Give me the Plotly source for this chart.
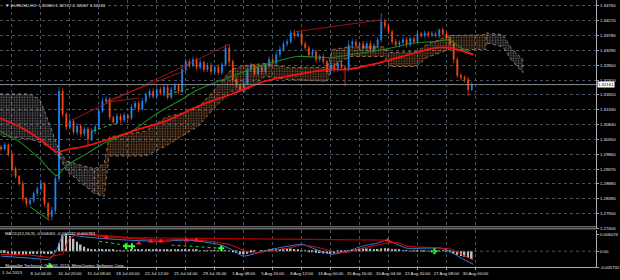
import plotly.graph_objects as go

# ---------------- data ----------------
# EURUSD H4 closes, one candle per 2 H4 bars (bar index = 2*k)
closes = [
    1.3003, 1.3017, 1.2987, 1.2938, 1.2912, 1.2889, 1.2839, 1.2823, 1.2833, 1.2856,
    1.2872, 1.2889, 1.2823, 1.2780, 1.2800, 1.2905, 1.3194, 1.3118, 1.3076, 1.3095,
    1.3059, 1.3079, 1.3053, 1.3069, 1.3036, 1.3062, 1.3076, 1.3128, 1.3161, 1.3168,
    1.3108, 1.3092, 1.3112, 1.3099, 1.3115, 1.3105, 1.3141, 1.3154, 1.3135, 1.3161,
    1.3181, 1.3194, 1.3177, 1.3200, 1.3187, 1.3207, 1.3174, 1.3200, 1.3213, 1.3194,
    1.3266, 1.3292, 1.3279, 1.3299, 1.3273, 1.3289, 1.3266, 1.3279, 1.3259, 1.3273,
    1.3256, 1.3282, 1.3338, 1.3292, 1.3233, 1.3213, 1.3200, 1.3220, 1.3266, 1.3279,
    1.3253, 1.3273, 1.3259, 1.3279, 1.3299, 1.3286, 1.3315, 1.3332, 1.3351, 1.3358,
    1.3387, 1.3378, 1.3384, 1.3351, 1.3338, 1.3315, 1.3325, 1.3299, 1.3309, 1.3292,
    1.3259, 1.3279, 1.3266, 1.3286, 1.3273, 1.3266, 1.3348, 1.3358, 1.3345, 1.3351,
    1.3338, 1.3351, 1.3332, 1.3345, 1.3364, 1.3424, 1.3410, 1.3391, 1.3358, 1.3348,
    1.3355, 1.3364, 1.3348, 1.3368, 1.3358, 1.3384, 1.3378, 1.3387, 1.3381, 1.3384,
    1.3378, 1.3397, 1.3384, 1.3371, 1.3351, 1.3299, 1.3246, 1.3240, 1.3233, 1.3200,
    1.3216,
]
first_open = 1.3010
# estimated wick lengths in pips (above body / below body)
up_pips = [6, 8, 5, 4, 7, 5, 9, 6, 10, 6,
           8, 12, 5, 6, 12, 8, 13, 10, 6, 12,
           8, 10, 6, 9, 7, 10, 8, 6, 12, 9,
           7, 6, 10, 8, 9, 6, 10, 8, 7, 11,
           9, 8, 10, 7, 9, 8, 11, 8, 9, 7,
           12, 10, 8, 9, 7, 10, 6, 9, 8, 7,
           10, 8, 10, 12, 7, 9, 6, 8, 10, 9,
           7, 9, 8, 6, 10, 8, 9, 12, 8, 10,
           9, 11, 8, 7, 9, 6, 10, 7, 8, 9,
           6, 10, 7, 8, 9, 7, 14, 9, 8, 7,
           9, 8, 10, 7, 9, 12, 10, 8, 6, 9,
           7, 8, 9, 6, 8, 9, 7, 8, 6, 9,
           8, 10, 7, 6, 8, 10, 7, 9, 6, 8,
           9]
low_pips = [7, 5, 9, 10, 6, 8, 7, 10, 6, 8,
            9, 6, 10, 12, 8, 9, 11, 9, 10, 7,
            8, 9, 11, 8, 10, 7, 9, 10, 6, 8,
            10, 9, 7, 11, 6, 8, 7, 9, 10, 6,
            8, 10, 7, 9, 6, 10, 8, 7, 9, 11,
            7, 9, 8, 6, 10, 7, 9, 8, 10, 7,
            9, 8, 7, 11, 10, 9, 8, 12, 7, 9,
            8, 6, 10, 9, 7, 8, 6, 9, 7, 8,
            7, 9, 6, 10, 8, 9, 7, 10, 8, 9,
            9, 7, 10, 8, 9, 8, 7, 9, 6, 10,
            8, 9, 7, 10, 8, 9, 11, 8, 10, 7,
            9, 8, 10, 7, 9, 6, 8, 7, 9, 8,
            7, 9, 8, 10, 9, 12, 8, 10, 9, 11,
            6]
wick_k = [14, 16, 24, 62, 66, 80, 95, 105, 121, 129]
wick_high = [None, 1.3207, None, 1.3348, None, 1.3397, None, 1.3453, 1.3401, None]
wick_low = [1.2767, None, 1.3013, None, 1.3194, None, 1.3210, None, None, 1.3177]
bid_price = 1.32161

red_ma_x = [-0.6, 10.4, 21.3, 30.6, 37.8, 47.1, 59.7, 76.1, 90.9, 109.0, 127.1, 145.7,
            163.8, 181.9, 191.2, 207.6, 229.5, 240.5, 247.6, 260.8]
red_ma_y = [1.3105, 1.3076, 1.3036, 1.2994, 1.3003, 1.3013, 1.3036, 1.3069, 1.3095, 1.3145,
            1.3184, 1.3227, 1.3250, 1.3266, 1.3266, 1.3286, 1.3322, 1.3338, 1.3338, 1.3315]
green_ma_x = [-0.6, 10.4, 21.3, 30.6, 36.1, 47.1, 58.0, 72.3, 85.4, 98.0, 109.0, 127.1,
              145.7, 163.8, 181.9, 200.5, 211.5, 229.5, 238.9, 247.6, 253.1, 260.8]
green_ma_y = [1.3062, 1.3026, 1.2971, 1.2915, 1.2948, 1.2987, 1.3026, 1.3062, 1.3118, 1.3161,
              1.3200, 1.3243, 1.3282, 1.3309, 1.3305, 1.3322, 1.3332, 1.3355, 1.3358, 1.3364,
              1.3341, 1.3315]

# Ichimoku cloud segments (bar index, upper span, lower span)
gray1_x = [-0.6, 15.8, 21.3, 26.8, 32.3]
gray1_top = [1.3185, 1.3185, 1.3168, 1.3085, 1.2994]
gray1_bot = [1.3046, 1.3036, 1.3026, 1.3010, 1.2977]
gray2_x = [32.3, 36.1, 43.2, 51.5]
gray2_top = [1.2994, 1.2964, 1.2951, 1.2938]
gray2_bot = [1.2977, 1.2931, 1.2895, 1.2856]
orange_x = [51.5, 56.9, 59.7, 79.9, 90.9, 101.9, 109.0, 117.2, 127.1, 134.7, 145.7, 158.3,
            180.2, 183.0, 192.8, 211.5, 214.7, 229.5, 235.0, 247.6, 267.9]
orange_top = [1.2938, 1.2954, 1.3043, 1.3062, 1.3108, 1.3125, 1.3141, 1.3194, 1.3266, 1.3279,
              1.3286, 1.3273, 1.3273, 1.3332, 1.3341, 1.3341, 1.3322, 1.3325, 1.3348, 1.3378,
              1.3381]
orange_bot = [1.2856, 1.2846, 1.2980, 1.2980, 1.3013, 1.3053, 1.3079, 1.3135, 1.3194, 1.3194,
              1.3243, 1.3233, 1.3227, 1.3276, 1.3309, 1.3309, 1.3276, 1.3276, 1.3305, 1.3332,
              1.3332]
gray3_x = [267.9, 277.2, 281.6, 288.2]
gray3_top = [1.3387, 1.3381, 1.3338, 1.3299]
gray3_bot = [1.3354, 1.3341, 1.3299, 1.3256]

# trend lines on price pane
tl_x = [38.9, 125.4, None, 162.7, 209.8, None, 58.0, 103.5, None, 58.0, 76.1]
tl_y = [1.3098, 1.3348, None, 1.3391, 1.3430, None, 1.3161, 1.3266, None, 1.3158, 1.3171]
gd_x = [50.4, 65.2, None, 92.5, 109.0]
gd_y = [1.3062, 1.3092, None, 1.3184, 1.3210]
gs_x = [15.8, 26.8]
gs_y = [1.2813, 1.2767]

# MACD pane
hist = [
    -0.0006, -0.0007, -0.0008, -0.0009, -0.0010, -0.0010, -0.0011, -0.0011, -0.0010, -0.0009,
    -0.0009, -0.0008, -0.0009, -0.0010, -0.0009, -0.0004,
    0.0030, 0.0058, 0.0064, 0.0055, 0.0045, 0.0034, 0.0024, 0.0016, 0.0010, 0.0007,
    0.0006, 0.0007, 0.0008, 0.0007, 0.0005, 0.0004, 0.0003, 0.0003, 0.0002, 0.0003,
    0.0004, 0.0005, 0.0005, 0.0006, 0.0006, 0.0006, 0.0005, 0.0005, 0.0005, 0.0004,
    0.0004, 0.0004, 0.0005, 0.0006, 0.0007, 0.0007, 0.0006, 0.0005, 0.0004, 0.0003,
    0.0002, 0.0002, 0.0001, 0.0001, 0.0002, 0.0002, 0.0003, 0.0003,
    -0.0003, -0.0007, -0.0010, -0.0011, -0.0009, -0.0006, -0.0003,
    0.0000, 0.0002, 0.0003, 0.0004, 0.0006, 0.0007, 0.0008, 0.0009, 0.0010, 0.0010,
    0.0008, 0.0006, 0.0003, 0.0001,
    -0.0002, -0.0004, -0.0006, -0.0007, -0.0008, -0.0009, -0.0009, -0.0008, -0.0006, -0.0004,
    -0.0002,
    0.0002, 0.0005, 0.0007, 0.0009, 0.0010, 0.0010, 0.0009, 0.0008, 0.0008,
    0.0010, 0.0011, 0.0010, 0.0008, 0.0006, 0.0004, 0.0002, 0.0001,
    0.0000, 0.0001, 0.0002, 0.0002, 0.0001, 0.0000, -0.0001, 0.0000, 0.0001, 0.0001,
    -0.0001, -0.0004, -0.0008, -0.0013, -0.0017, -0.0020, -0.0024, -0.0028,
]
macd_x = [0, 15.8, 26.8, 30.6, 33.9, 37.8, 43.2, 54.2, 70.6, 87.1, 103.5, 120.0, 127.1, 133.6,
          139.1, 147.3, 158.3, 166.5, 174.7, 183.0, 191.2, 199.4, 207.6, 213.1, 218.6, 224.1,
          235.0, 243.2, 248.7, 254.2, 260.8]
macd_main = [-0.0018, -0.0025, -0.0029, 0.0004, 0.0054, 0.0061, 0.0054, 0.0047, 0.0040, 0.0036,
             0.0040, 0.0025, 0.0007, -0.0018, -0.0011, 0.0004, 0.0018, 0.0025, 0.0004, -0.0011,
             0.0000, 0.0018, 0.0029, 0.0040, 0.0025, 0.0011, 0.0011, 0.0011, -0.0004, -0.0025,
             -0.0047]
macd_signal = [-0.0011, -0.0014, -0.0022, -0.0014, -0.0011, 0.0047, 0.0061, 0.0054, 0.0047, 0.0040,
               0.0043, 0.0032, 0.0022, 0.0004, -0.0007, 0.0000, 0.0011, 0.0022, 0.0014, 0.0000,
               -0.0004, 0.0011, 0.0022, 0.0029, 0.0032, 0.0018, 0.0014, 0.0011, 0.0007, -0.0011,
               -0.0032]
div_x = [41.6, 94.2, None, 58.0, 213.6]
div_y = [0.0065, 0.0036, None, 0.0050, 0.0040]
mgd_x = [54.2, 72.3, None, 94.2, 121.6, None, 225.7, 239.4]
mgd_y = [0.0036, 0.0018, None, 0.0022, 0.0011, None, 0.0000, 0.0000]
red_arrow_x = [58.0, 76.1, 82.7, 88.2, 102.4, 107.9, 213.6]
red_arrow_y = [0.0050, 0.0029, 0.0036, 0.0036, 0.0040, 0.0040, 0.0040]
green_arrow_x = [69.0, 72.3, 121.6, 239.4, 26.8]
green_arrow_y = [0.0018, 0.0018, 0.0011, 0.0000, -0.0054]

price_ticks = [1.34760, 1.34270, 1.33780, 1.33290, 1.32800, 1.32310, 1.31820, 1.31330,
               1.30840, 1.30350, 1.29860, 1.29370, 1.28880, 1.28390, 1.27900, 1.27400]
macd_ticks = [0.006074, 0.0, -0.005732]
macd_tick_text = ["0.006074", "0.00", "-0.005732"]
time_tick_bars = [6, 22, 38, 54, 70, 86, 102, 118, 134, 150, 166, 182, 198, 214, 230, 246, 262]
time_tick_text = ["", "8 Jul 04:00", "10 Jul 20:00", "15 Jul 08:00", "18 Jul 00:00",
                  "22 Jul 12:00", "25 Jul 04:00", "29 Jul 16:00", "1 Aug 08:00", "5 Aug 20:00",
                  "8 Aug 12:00", "13 Aug 00:00", "15 Aug 16:00", "20 Aug 04:00", "22 Aug 20:00",
                  "27 Aug 08:00", "30 Aug 00:00"]

# ---------------- build ----------------
W, H = 620, 280
FONT = "Liberation Sans"
TXT = "#e6e6e6"
GRID = "#47525d"
XR = [-0.6, 328.7]
XDOM = [0, 601 / 620]
PIP = 0.0001

bars = [2 * k for k in range(len(closes))]
opens = [first_open] + closes[:-1]
highs = [max(o, c) + u * PIP for o, c, u in zip(opens, closes, up_pips)]
lows = [min(o, c) - d * PIP for o, c, d in zip(opens, closes, low_pips)]
for k, hv, lv in zip(wick_k, wick_high, wick_low):
    if hv is not None:
        highs[k] = hv
    if lv is not None:
        lows[k] = lv

fig = go.Figure()


def add_cloud(xs, top, bot, col):
    fig.add_trace(go.Scatter(
        x=xs + xs[::-1], y=top + bot[::-1], mode="lines", fill="toself",
        line=dict(color=col, width=0.7, dash="dot"),
        fillcolor="rgba(0,0,0,0)",
        fillpattern=dict(shape=".", fgcolor=col, bgcolor="rgba(0,0,0,0)", size=2.6, solidity=0.45),
        hoverinfo="skip", xaxis="x", yaxis="y"))


GRAYC = "#b3aab5"
ORC = "#d8925a"
add_cloud(gray1_x, gray1_top, gray1_bot, GRAYC)
add_cloud(gray2_x, gray2_top, gray2_bot, GRAYC)
add_cloud(orange_x, orange_top, orange_bot, ORC)
add_cloud(gray3_x, gray3_top, gray3_bot, GRAYC)

fig.add_trace(go.Candlestick(
    x=bars, open=opens, high=highs, low=lows, close=closes,
    increasing=dict(line=dict(color="#1e8cff", width=0.7), fillcolor="#1e8cff"),
    decreasing=dict(line=dict(color="#ff4a12", width=0.7), fillcolor="#ff4a12"),
    whiskerwidth=0, xaxis="x", yaxis="y", hoverinfo="skip"))

fig.add_trace(go.Scatter(x=green_ma_x, y=green_ma_y, mode="lines",
                         line=dict(color="#1f8a1f", width=1.1, shape="spline", smoothing=0.6),
                         xaxis="x", yaxis="y"))
fig.add_trace(go.Scatter(x=red_ma_x, y=red_ma_y, mode="lines",
                         line=dict(color="#ff1010", width=1.7, shape="spline", smoothing=0.6),
                         xaxis="x", yaxis="y"))
fig.add_trace(go.Scatter(x=tl_x, y=tl_y, mode="lines", line=dict(color="#c01818", width=0.8),
                         xaxis="x", yaxis="y"))
fig.add_trace(go.Scatter(x=gd_x, y=gd_y, mode="lines", line=dict(color="#2fbf2f", width=1, dash="dot"),
                         xaxis="x", yaxis="y"))
fig.add_trace(go.Scatter(x=gs_x, y=gs_y, mode="lines", line=dict(color="#2a9a2a", width=1),
                         xaxis="x", yaxis="y"))

# MACD pane
fig.add_trace(go.Bar(x=bars, y=hist, width=0.9,
                     marker=dict(color="#bcbcbc", line=dict(width=0)),
                     xaxis="x2", yaxis="y2", hoverinfo="skip"))
fig.add_trace(go.Scatter(x=macd_x, y=macd_main, mode="lines",
                         line=dict(color="#2f7fe0", width=1, shape="spline", smoothing=0.5),
                         xaxis="x2", yaxis="y2"))
fig.add_trace(go.Scatter(x=macd_x, y=macd_signal, mode="lines",
                         line=dict(color="#e01010", width=1, shape="spline", smoothing=0.5),
                         xaxis="x2", yaxis="y2"))
fig.add_trace(go.Scatter(x=div_x, y=div_y, mode="lines", line=dict(color="#b00000", width=1.3),
                         xaxis="x2", yaxis="y2"))
fig.add_trace(go.Scatter(x=mgd_x, y=mgd_y, mode="lines", line=dict(color="#30d030", width=1, dash="dot"),
                         xaxis="x2", yaxis="y2"))
fig.add_trace(go.Scatter(x=red_arrow_x, y=red_arrow_y, mode="markers",
                         marker=dict(symbol="triangle-up", size=5, color="#ff2020"),
                         xaxis="x2", yaxis="y2"))
fig.add_trace(go.Scatter(x=green_arrow_x, y=green_arrow_y, mode="markers",
                         marker=dict(symbol="cross", size=5, color="#33ff33"),
                         xaxis="x2", yaxis="y2"))


def py(pix):
    return (H - pix) / H


axis_font = dict(family=FONT, size=4.3, color=TXT)

fig.update_layout(
    width=W, height=H, margin=dict(l=0, r=0, t=0, b=0),
    paper_bgcolor="#000000", plot_bgcolor="#000000",
    showlegend=False, hovermode=False, boxgap=0.6,
    font=dict(family=FONT, size=4.3, color=TXT),
    xaxis=dict(domain=XDOM, range=XR, anchor="y", tickvals=time_tick_bars, showticklabels=False,
               showgrid=True, gridcolor=GRID, griddash="dot", gridwidth=1, zeroline=False,
               rangeslider=dict(visible=False), showline=False, ticks=""),
    yaxis=dict(domain=[py(231), 1.0], range=[1.27375, 1.34957], anchor="x", side="right",
               tickvals=price_ticks, ticktext=["%.5f" % v for v in price_ticks],
               tickfont=axis_font, showgrid=True, gridcolor=GRID, griddash="dot", gridwidth=1,
               zeroline=False, showline=True, linecolor="#a8a8a8", linewidth=1,
               ticks="outside", ticklen=2, tickcolor="#a8a8a8"),
    xaxis2=dict(domain=XDOM, range=XR, anchor="y2", matches="x", tickvals=time_tick_bars,
                ticktext=time_tick_text, tickfont=axis_font, tickangle=0,
                showgrid=True, gridcolor=GRID, griddash="dot", gridwidth=1, zeroline=False,
                showline=True, linecolor="#a8a8a8", linewidth=1, ticks="outside", ticklen=2,
                tickcolor="#a8a8a8", rangeslider=dict(visible=False)),
    yaxis2=dict(domain=[py(269), py(232)], range=[-0.00576, 0.00756], anchor="x2", side="right",
                tickvals=macd_ticks, ticktext=macd_tick_text, tickfont=axis_font,
                showgrid=False, zeroline=False, showline=True, linecolor="#a8a8a8", linewidth=1,
                ticks="outside", ticklen=2, tickcolor="#a8a8a8"),
)

shapes = [
    dict(type="line", xref="paper", yref="paper", x0=0, x1=XDOM[1], y0=py(228.5), y1=py(228.5),
         line=dict(color="#9c9c9c", width=1)),
    dict(type="line", xref="paper", yref="paper", x0=0, x1=XDOM[1], y0=py(230.5), y1=py(230.5),
         line=dict(color="#9c9c9c", width=1)),
    dict(type="line", xref="paper", yref="y", x0=0, x1=XDOM[1], y0=bid_price, y1=bid_price,
         line=dict(color="#8a8a8a", width=1)),
    dict(type="line", xref="paper", yref="y2", x0=0, x1=XDOM[1], y0=0, y1=0,
         line=dict(color=GRID, width=1, dash="dot")),
]
fig.update_layout(shapes=shapes)

annots = [
    dict(text="▼ EURUSD,H4  1.32080 1.32172 1.32067 1.32161", x=3 / W, y=py(6), xref="paper",
         yref="paper", xanchor="left", yanchor="middle", showarrow=False,
         font=dict(family=FONT, size=4.4, color=TXT)),
    dict(text="MACD(12,26,9) -0.004065 -0.003282 0.000783", x=3 / W, y=py(235), xref="paper",
         yref="paper", xanchor="left", yanchor="middle", showarrow=False,
         font=dict(family=FONT, size=4.3, color=TXT)),
    dict(text="Skopalbn Technical, © 2001-2013, MetaQuotes Software Corp.", x=3 / W, y=py(267.5),
         xref="paper", yref="paper", xanchor="left", yanchor="middle", showarrow=False,
         font=dict(family=FONT, size=4.3, color=TXT)),
    dict(text="1 Jul 2013", x=0, y=py(274.5), xref="paper", yref="paper", xanchor="left",
         yanchor="middle", showarrow=False, font=axis_font),
    dict(text="%.5f" % bid_price, x=XDOM[1], y=bid_price, xref="paper", yref="y",
         xanchor="left", yanchor="middle", showarrow=False, bgcolor="#ffffff", borderpad=0,
         xshift=1, font=dict(family=FONT, size=4.3, color="#000000")),
]
fig.update_layout(annotations=annots)

fig.write_html("out.html")
